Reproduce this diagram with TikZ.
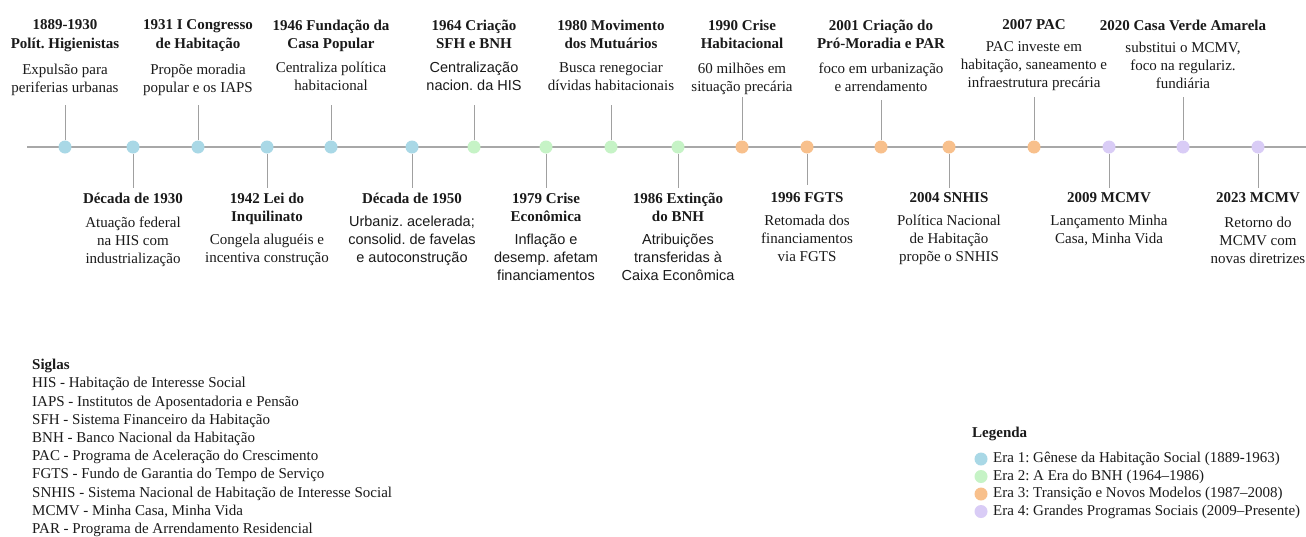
\documentclass[tikz,border=0pt]{standalone}
\usepackage{fontspec}
\setmainfont{Liberation Serif}
\newfontfamily\sansf{Liberation Sans}
\frenchspacing
\definecolor{eraA}{HTML}{A9D8E6}
\definecolor{eraB}{HTML}{C6F3C6}
\definecolor{eraC}{HTML}{F8C08C}
\definecolor{eraD}{HTML}{D9CCF6}
\definecolor{linegray}{HTML}{A8A8A8}
\definecolor{stemgray}{HTML}{A0A0A0}
\definecolor{txt}{HTML}{1A1A1A}
\newcommand{\tlevent}[8]{%
  \node[dot, fill=#3] (#1) at (#2,147) {};
  \coordinate (#1s) at (#2,#4);
  \draw[stem] (#1) -- (#1s);
  \node[ttl] (#1t) at (#2,#5) {#6};
  \node[dsc] (#1d) at (#2,#7) {#8};
}
\newcommand{\mysans}{\sansf\fontsize{14.5}{18}\selectfont}
\begin{document}
\begin{tikzpicture}[x=1pt,y=-1pt,
  dot/.style={circle, minimum size=13pt, inner sep=0pt, draw=none},
  stem/.style={draw=stemgray, line width=1pt},
  mainline/.style={draw=linegray, line width=1.4pt},
  ttl/.style={anchor=north, inner sep=0pt, align=center, text=txt,
    font=\fontsize{15}{18.5}\selectfont\bfseries},
  dsc/.style={anchor=north, inner sep=0pt, align=center, text=txt,
    font=\fontsize{15}{18}\selectfont},
  sgl/.style={anchor=north west, inner sep=0pt, align=left, text=txt,
    font=\fontsize{15}{18.2}\selectfont},
  legtxt/.style={anchor=west, inner sep=0pt, text=txt,
    font=\fontsize{15}{18}\selectfont},
  legdot/.style={circle, minimum size=13pt, inner sep=0pt, draw=none}]
\useasboundingbox[fill=white] (0,0) rectangle (1306,536);
\coordinate (ls) at (27,147);
\coordinate (le) at (1306,147);
\draw[mainline] (ls) -- (le);
% top events
\tlevent{e1}{65}{eraA}{105}{19.5}{1889-1930\\Polít. Higienistas}{64}{Expulsão para\\periferias urbanas}
\tlevent{e3}{198}{eraA}{105}{19.5}{1931 I Congresso\\de Habitação}{64}{Propõe moradia\\popular e os IAPS}
\tlevent{e5}{331}{eraA}{105}{19.5}{1946 Fundação da\\Casa Popular}{61.5}{Centraliza política\\habitacional}
\tlevent{e7}{474}{eraB}{105}{19.5}{1964 Criação\\SFH e BNH}{61.5}{\mysans Centralização\\\mysans nacion. da HIS}
\tlevent{e9}{611}{eraB}{105}{19.5}{1980 Movimento\\dos Mutuários}{62.5}{Busca renegociar\\dívidas habitacionais}
\tlevent{e11}{742}{eraC}{97}{19.5}{1990 Crise\\Habitacional}{62.5}{60 milhões em\\situação precária}
\tlevent{e13}{881}{eraC}{100}{19.5}{2001 Criação do\\Pró-Moradia e PAR}{62.5}{foco em urbanização\\e arrendamento}
\tlevent{e15}{1034}{eraC}{97}{19.5}{2007 PAC}{41.5}{PAC investe em\\habitação, saneamento e\\infraestrutura precária}
\tlevent{e17}{1183}{eraD}{97}{19.5}{2020 Casa Verde Amarela}{41.5}{substitui o MCMV,\\foco na regulariz.\\fundiária}
% bottom events
\tlevent{e2}{133}{eraA}{188}{192.5}{Década de 1930}{216.5}{Atuação federal\\na HIS com\\industrialização}
\tlevent{e4}{267}{eraA}{188}{192.5}{1942 Lei do\\Inquilinato}{233.5}{Congela aluguéis e\\incentiva construção}
\tlevent{e6}{412}{eraA}{188}{192.5}{Década de 1950}{215.5}{\mysans Urbaniz. acelerada;\\\mysans consolid. de favelas\\\mysans e autoconstrução}
\tlevent{e8}{546}{eraB}{188}{192.5}{1979 Crise\\Econômica}{233.5}{\mysans Inflação e\\\mysans desemp. afetam\\\mysans financiamentos}
\tlevent{e10}{678}{eraB}{188}{192.5}{1986 Extinção\\do BNH}{233.5}{\mysans Atribuições\\\mysans transferidas à\\\mysans Caixa Econômica}
\tlevent{e12}{807}{eraC}{185}{192.5}{1996 FGTS}{214.5}{Retomada dos\\financiamentos\\via FGTS}
\tlevent{e14}{949}{eraC}{188}{192.5}{2004 SNHIS}{214.5}{Política Nacional\\de Habitação\\propõe o SNHIS}
\tlevent{e16}{1109}{eraD}{188}{192.5}{2009 MCMV}{214.5}{Lançamento Minha\\Casa, Minha Vida}
\tlevent{e18}{1258}{eraD}{188}{192.5}{2023 MCMV}{217}{Retorno do\\MCMV com\\novas diretrizes}
% siglas
\node[sgl] (siglas) at (32,359) {\textbf{Siglas}\\
HIS - Habitação de Interesse Social\\
IAPS - Institutos de Aposentadoria e Pensão\\
SFH - Sistema Financeiro da Habitação\\
BNH - Banco Nacional da Habitação\\
PAC - Programa de Aceleração do Crescimento\\
FGTS - Fundo de Garantia do Tempo de Serviço\\
SNHIS - Sistema Nacional de Habitação de Interesse Social\\
MCMV - Minha Casa, Minha Vida\\
PAR - Programa de Arrendamento Residencial};
% legend
\node[anchor=west, inner sep=0pt, text=txt, font=\fontsize{15}{18}\selectfont\bfseries] (legtitle) at (972,434) {Legenda};
\node[legdot, fill=eraA] (l1) at (981,459) {};
\node[legdot, fill=eraB] (l2) at (981,476.5) {};
\node[legdot, fill=eraC] (l3) at (981,494) {};
\node[legdot, fill=eraD] (l4) at (981,511.5) {};
\node[legtxt] (l1t) at (993,459) {Era 1: Gênese da Habitação Social (1889-1963)};
\node[legtxt] (l2t) at (993,476.5) {Era 2: A Era do BNH (1964–1986)};
\node[legtxt] (l3t) at (993,494) {Era 3: Transição e Novos Modelos (1987–2008)};
\node[legtxt] (l4t) at (993,511.5) {Era 4: Grandes Programas Sociais (2009–Presente)};
\end{tikzpicture}
\end{document}
